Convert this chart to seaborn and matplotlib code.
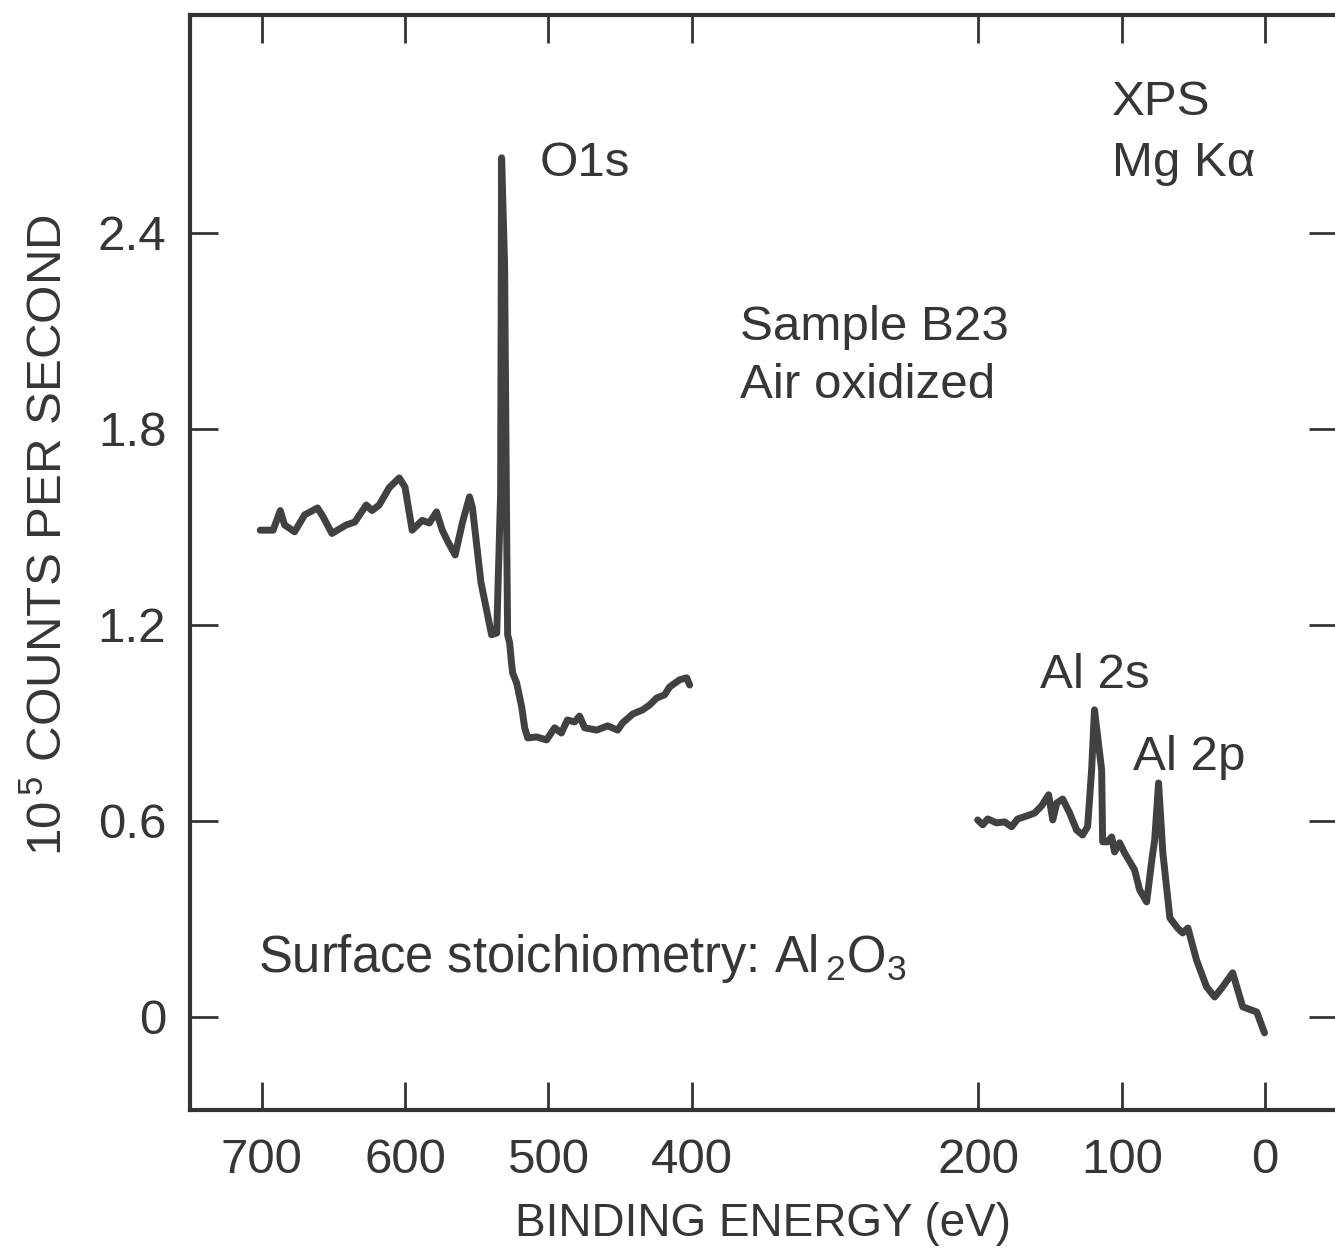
import numpy as np
import pandas as pd
import seaborn as sns
import matplotlib.pyplot as plt

# Espectro XPS (energia de ligacao em eV, contagens em 1e5 /s)
ev_esq = [701, 692, 687, 684, 677, 670, 661, 657, 651, 641, 635, 627, 623, 618,
          611, 604, 600, 595, 588, 583, 578, 574, 570, 565, 560, 555, 553, 547,
          539.6, 536, 533.3, 532.6, 530.5, 529.1, 528.4, 527, 525.6, 524.9,
          522.1, 518.6, 516.5, 514.4, 508.2, 501.2, 495.6, 490.9, 486.7, 481.7,
          478.2, 474.7, 466.3, 458.6, 451.7, 448.2, 441.2, 434.2, 429.3, 424.5,
          418.9, 415.4, 408.4, 403.5, 401.4]
cps_esq = [1.49, 1.49, 1.55, 1.506, 1.485, 1.537, 1.558, 1.53, 1.48, 1.506,
           1.515, 1.567, 1.55, 1.567, 1.62, 1.65, 1.622, 1.49, 1.52, 1.512,
           1.546, 1.49, 1.454, 1.414, 1.512, 1.592, 1.56, 1.33,
           1.17, 1.175, 1.60, 2.63, 2.30, 1.50, 1.17, 1.145, 1.08, 1.053,
           1.022, 0.949, 0.885, 0.854, 0.857, 0.848, 0.885, 0.869, 0.909, 0.903,
           0.921, 0.885, 0.878, 0.891, 0.878, 0.90, 0.927, 0.94, 0.955, 0.976,
           0.986, 1.01, 1.032, 1.038, 1.016]

ev_dir = [200.5, 197, 193.5, 187.3, 181.7, 176.8, 172.6, 166.3, 160.8, 155.9,
          151, 148.1, 145.3, 141.2, 136.3, 131.5, 127.3, 123.8, 121, 119, 114,
          113.3, 110, 107, 105, 101.5, 98, 91, 87.5, 82.6, 79, 77, 74.3, 71.3,
          66.4, 61, 57.5, 53.8, 47.8, 40.8, 35.2, 29.6, 22.6, 19.1, 15.6, 5.8, 0.4]
cps_dir = [0.603, 0.588, 0.606, 0.594, 0.597, 0.582, 0.606, 0.615, 0.624, 0.646,
           0.68, 0.603, 0.655, 0.667, 0.624, 0.572, 0.557, 0.582, 0.756, 0.94,
           0.756, 0.536, 0.536, 0.551, 0.505, 0.533, 0.502, 0.45, 0.389, 0.352,
           0.48, 0.542, 0.716, 0.502, 0.303, 0.272, 0.257, 0.272, 0.174, 0.092,
           0.061, 0.092, 0.135, 0.083, 0.031, 0.015, -0.049]

xticks = [700, 600, 500, 400, 200, 100, 0]
yticks = [0, 0.6, 1.2, 1.8, 2.4]
ytick_labels = ["0", "0.6", "1.2", "1.8", "2.4"]

sns.set_style("ticks")
plt.rcParams["font.family"] = ["Liberation Sans", "DejaVu Sans"]
plt.rcParams["mathtext.fontset"] = "custom"
plt.rcParams["mathtext.rm"] = "Liberation Sans"
plt.rcParams["mathtext.default"] = "regular"

cor_texto = "#363636"
cor_linha = "#414141"

fig = plt.figure(figsize=(13.35, 12.51), dpi=100)
ax = fig.add_axes([0.1423, 0.1127, 0.859, 0.8753])

df_esq = pd.DataFrame({"ev": ev_esq, "cps": cps_esq})
df_dir = pd.DataFrame({"ev": ev_dir, "cps": cps_dir})
sns.lineplot(data=df_esq, x="ev", y="cps", sort=False, color=cor_linha, lw=5, ax=ax)
sns.lineplot(data=df_dir, x="ev", y="cps", sort=False, color=cor_linha, lw=5, ax=ax)

ax.set_xlim(750, -50)
ax.set_ylim(-0.285, 3.067)
ax.set_xticks(xticks)
ax.set_xticklabels([str(v) for v in xticks])
ax.set_yticks(yticks)
ax.set_yticklabels(ytick_labels)
ax.tick_params(direction="in", length=20, width=2, top=True, right=True,
               labelsize=35.5, colors="#333333", labelcolor=cor_texto)
ax.tick_params(axis="x", pad=20)
ax.tick_params(axis="y", pad=17)
for sp in ax.spines.values():
    sp.set_linewidth(3)
    sp.set_color("#333333")

ax.set_xlabel("BINDING ENERGY (eV)", fontsize=33, color=cor_texto, labelpad=14)
ax.set_ylabel("10$^{\\,5}$ COUNTS PER SECOND", fontsize=35.5, color=cor_texto)
ax.yaxis.set_label_coords(-0.103, 0.525)

# Anotacoes
kw = dict(fontsize=35.5, color=cor_texto, va="baseline", ha="left")
ax.text(506, 2.574, "O1s", **kw)
ax.text(107, 2.761, "XPS", **kw)
ax.text(107, 2.574, "Mg K\u03b1", **kw)
ax.text(366.5, 2.072, "Sample B23", **kw)
ax.text(366.5, 1.895, "Air oxidized", **kw)
ax.text(157.3, 1.007, "Al 2s", **kw)
ax.text(92.4, 0.756, "Al 2p", **kw)
ax.text(702.8, 0.138, "Surface stoichiometry: Al$_{\\,2}$O$_{3}$",
        fontsize=36.5, color=cor_texto, va="baseline", ha="left")

fig.savefig("out.png", dpi=100)
